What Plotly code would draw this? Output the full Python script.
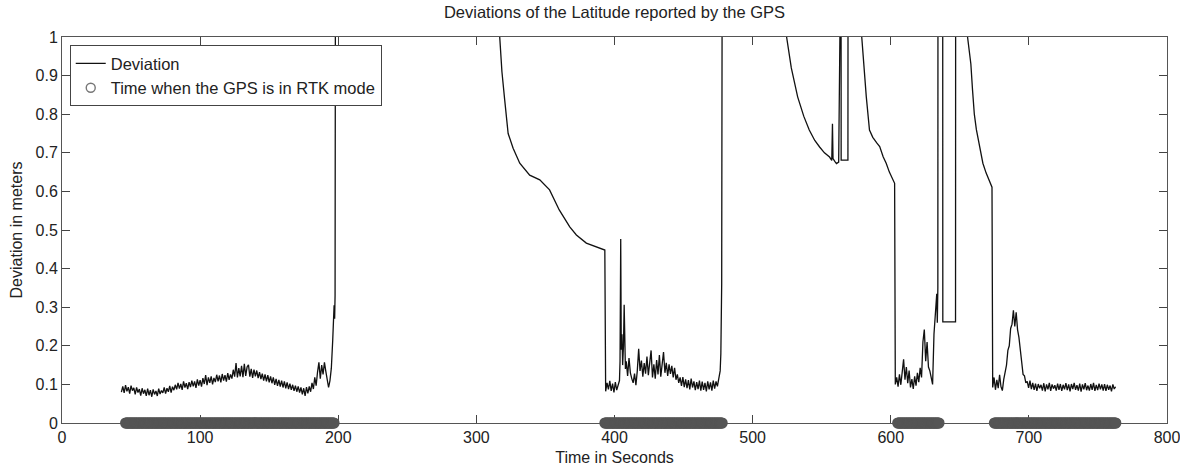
import numpy as np
import plotly.graph_objects as go

# ---------------- data ----------------
# RTK period 1: 1 s samples starting at 43 s
rtk1_start = 43.0
rtk1_dev = [.080, .095, .078, .098, .082, .093, .076, .097, .084, .091,
            .074, .092, .079, .088, .071, .090, .076, .086, .070, .089,
            .072, .085, .068, .087, .074, .083, .070, .089, .075, .084,
            .078, .092, .076, .090, .081, .096, .079, .094, .085, .099,
            .087, .104, .089, .101, .086, .108, .092, .103, .088, .106,
            .093, .110, .095, .108, .091, .113, .097, .111, .094, .116,
            .101, .124, .098, .118, .104, .121, .100, .117, .106, .125,
            .108, .123, .105, .127, .110, .124, .107, .129, .112, .126,
            .115, .138, .120, .155, .118, .142, .121, .148, .119, .153,
            .122, .145, .151, .120, .140, .117, .138, .121, .136, .116,
            .132, .114, .128, .110, .126, .108, .124, .105, .121, .103,
            .118, .099, .114, .096, .112, .094, .110, .092, .108, .090,
            .105, .088, .102, .086, .099, .083, .097, .081, .095, .079,
            .092, .074, .090, .070, .093, .077, .095, .081, .104, .088,
            .118, .097, .132, .157, .115, .150, .126, .157, .134, .112,
            .092, .110, .142, .215, .305]
jump1_time = [197.4, 197.7, 198.0]
jump1_dev = [0.27, 0.33, 1.30]

# float solution 1 (converging curve)
curve1_time = [316.0, 316.9, 318.5, 320.5, 323.0, 326.6, 331.4, 338.6, 345.9,
               353.0, 360.0, 367.6, 372.4, 379.6, 386.9, 393.0]
curve1_dev = [1.30, 1.00, 0.91, 0.837, 0.75, 0.712, 0.673, 0.642, 0.630,
              0.604, 0.552, 0.508, 0.487, 0.466, 0.457, 0.448]

# RTK period 2
rtk2a_start = 393.6
rtk2a_dev = [.082, .104, .087, .109, .083, .102, .079, .106, .085, .100]
spike2_time = [403.6, 404.0, 404.5, 404.9, 405.4, 405.9, 406.5, 407.0, 407.4, 407.9]
spike2_dev = [.110, .160, .477, .190, .230, .150, .200, .306, .170, .140]
rtk2b_start = 408.5
rtk2b_dev = [.160, .122, .168, .130, .115, .104, .128, .098, .135, .192,
             .135, .162, .120, .155, .128, .172, .124, .158, .188, .118,
             .152, .115, .163, .126, .176, .120, .150, .184, .130, .156,
             .122, .152, .127, .148, .118, .143, .112, .126, .104, .118,
             .096, .119, .093, .113, .090, .111, .087, .115, .092, .108,
             .085, .106, .088, .110, .084, .107, .086, .104, .082, .108,
             .087, .105, .084, .110, .089, .108, .095, .118, .135]
jump2_time = [477.0, 477.3, 477.6, 478.0]
jump2_dev = [0.18, 0.25, 0.36, 1.30]

# float solution 2
curve2_time = [524.0, 524.6, 528.0, 532.6, 537.0, 541.0, 545.0, 548.5, 552.0, 555.7,
               557.3, 557.8, 558.2, 559.5, 560.7, 562.3, 562.5, 564.0, 564.1, 569.0,
               569.1, 578.5, 579.0, 580.5, 582.3, 584.6, 587.0, 590.0, 592.0, 594.5,
               596.7, 599.0, 601.0, 602.8]
curve2_dev = [1.30, 1.00, 0.92, 0.845, 0.795, 0.759, 0.732, 0.715, 0.700, 0.689,
              0.680, 0.775, 0.685, 0.678, 0.672, 0.676, 1.30, 1.30, 0.681, 0.681,
              1.30, 1.30, 1.00, 0.92, 0.845, 0.759, 0.740, 0.725, 0.716, 0.690,
              0.673, 0.650, 0.633, 0.621]

# RTK period 3
rtk3_start = 603.3
rtk3_dev = [.100, .118, .094, .126, .099, .133, .165, .112, .145, .103,
            .136, .092, .114, .088, .121, .097, .130, .106, .143, .118,
            .210, .242, .160, .210, .145, .135, .115, .100, .230, .290, .335]
jump3_time = [633.7, 634.1, 634.2, 637.6, 637.7, 646.9, 647.0, 655.2]
jump3_dev = [0.26, 0.35, 1.30, 1.30, 0.262, 0.262, 1.30, 1.30]

# float solution 3
curve3_time = [655.6, 657.0, 658.0, 659.2, 660.5, 662.0, 664.7, 666.7, 669.0, 671.0, 673.3]
curve3_dev = [1.00, 0.96, 0.93, 0.863, 0.80, 0.76, 0.71, 0.673, 0.648, 0.630, 0.611]

# RTK period 4
rtk4_start = 673.8
rtk4_dev = [.092, .118, .086, .112, .090, .125, .094, .084, .113, .128,
            .150, .188, .200, .245, .256, .292, .250, .287, .242, .222,
            .180, .158, .126, .122, .104, .108, .091, .110, .088, .104,
            .086, .102, .083, .101, .090, .099, .084, .103, .082, .100,
            .087, .104, .083, .100, .089, .098, .084, .102, .086, .101,
            .083, .099, .087, .103, .085, .100, .082, .101, .088, .104,
            .086, .098, .084, .102, .081, .100, .087, .103, .085, .097,
            .084, .101, .086, .104, .083, .099, .085, .102, .087, .100,
            .084, .101, .083, .099, .086, .097, .082, .100, .088, .094]

# Times when the GPS is in RTK mode (interval start / end, seconds)
rtk_mode_start = [46, 393, 605, 675]
rtk_mode_end = [197, 478, 635, 763]

x_ticks = [0, 100, 200, 300, 400, 500, 600, 700, 800]
y_ticks = [0, 0.1, 0.2, 0.3, 0.4, 0.5, 0.6, 0.7, 0.8, 0.9, 1]
y_tick_labels = ["0", "0.1", "0.2", "0.3", "0.4", "0.5", "0.6", "0.7", "0.8", "0.9", "1"]

# ---------------- assemble series ----------------
def uniform(start, vals, step=1.0):
    return list(start + step * np.arange(len(vals))), list(vals)

pieces = [
    uniform(rtk1_start, rtk1_dev),
    (jump1_time, jump1_dev),
    (curve1_time, curve1_dev),
    uniform(rtk2a_start, rtk2a_dev),
    (spike2_time, spike2_dev),
    uniform(rtk2b_start, rtk2b_dev),
    (jump2_time, jump2_dev),
    (curve2_time, curve2_dev),
    uniform(rtk3_start, rtk3_dev),
    (jump3_time, jump3_dev),
    (curve3_time, curve3_dev),
    uniform(rtk4_start, rtk4_dev),
]
t_all, d_all = [], []
for tt, dd in pieces:
    t_all += list(tt)
    d_all += list(dd)

rtk_t = []
for s, e in zip(rtk_mode_start, rtk_mode_end):
    rtk_t += list(np.arange(s, e + 0.01, 0.5))
rtk_y = [0.0] * len(rtk_t)

FONT = "Liberation Sans, Arial, Helvetica, sans-serif"
TXT = "#222222"

fig = go.Figure()
fig.add_trace(go.Scatter(
    x=t_all, y=d_all, mode="lines", name="Deviation",
    line=dict(color="#111111", width=1.3),
))
fig.add_trace(go.Scatter(
    x=rtk_t, y=rtk_y, mode="markers", showlegend=False, cliponaxis=False,
    marker=dict(symbol="circle", size=11, color="#555555", line=dict(width=0)),
    hoverinfo="skip",
))
fig.add_trace(go.Scatter(
    x=[None], y=[None], mode="markers", name="Time when the GPS is in RTK mode",
    marker=dict(symbol="circle-open", size=9, color="#777777", line=dict(width=1.4)),
))

axis_common = dict(
    showline=True, linecolor="#555555", linewidth=1, mirror="ticks",
    ticks="inside", ticklen=8, tickcolor="#444444", tickwidth=1,
    showgrid=False, zeroline=False, automargin=False,
    ticklabeloverflow="allow",
    tickfont=dict(family=FONT, size=16, color=TXT),
)

fig.update_layout(
    width=1180, height=466,
    margin=dict(l=62, r=13, t=37, b=43),
    paper_bgcolor="white", plot_bgcolor="white",
    font=dict(family=FONT, color=TXT),
    title=dict(text="Deviations of the Latitude reported by the GPS",
               x=0.5, xref="paper", xanchor="center",
               y=1 - 12 / 466, yref="container", yanchor="middle",
               font=dict(family=FONT, size=16.5, color=TXT)),
    xaxis=dict(range=[0, 800], tickvals=x_ticks, layer="below traces",
               title=dict(text="Time in Seconds",
                          font=dict(family=FONT, size=16, color=TXT)),
               **axis_common),
    yaxis=dict(range=[0, 1], tickvals=y_ticks, ticktext=y_tick_labels,
               title=dict(text="Deviation in meters", standoff=8,
                          font=dict(family=FONT, size=16, color=TXT)),
               **axis_common),
    legend=dict(x=0.007, y=0.979, xanchor="left", yanchor="top",
                bgcolor="white", bordercolor="#444444", borderwidth=1,
                font=dict(family=FONT, size=16.5, color=TXT),
                tracegroupgap=0, itemwidth=30),
    showlegend=True,
)

fig.write_html(
    "out.html",
    config={"displayModeBar": False},
    post_script="document.body.style.margin='0';document.body.style.padding='0';",
)
